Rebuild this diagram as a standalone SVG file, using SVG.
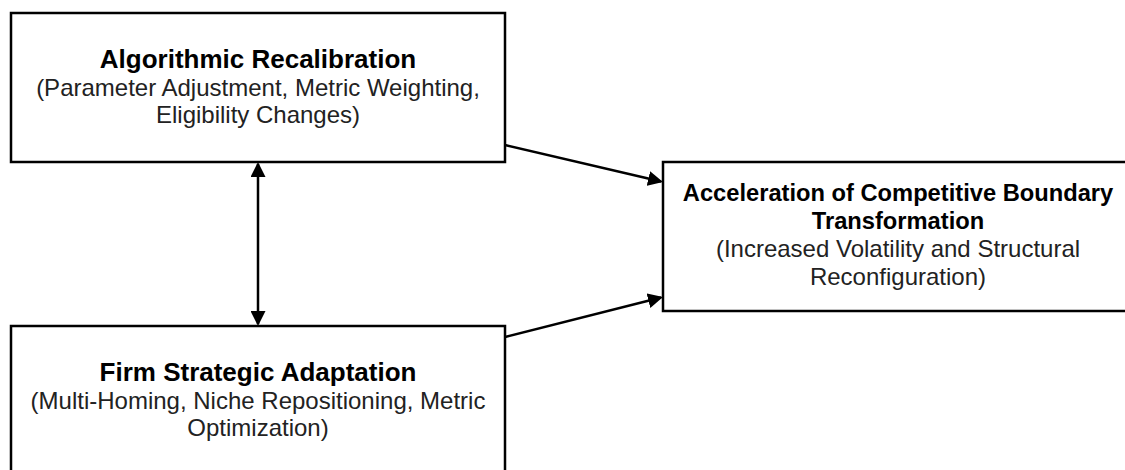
<svg xmlns="http://www.w3.org/2000/svg" width="1125" height="470" viewBox="0 0 1125 470">
  <style>
    .box { fill: #ffffff; stroke: #000000; stroke-width: 2.5; }
    .title { font-family: "Liberation Sans", Arial, Helvetica, sans-serif; font-weight: bold; fill: #000000; text-anchor: middle; }
    .sub { font-family: "Liberation Sans", Arial, Helvetica, sans-serif; font-size: 24px; fill: #222222; text-anchor: middle; }
    .edge { fill: none; stroke: #000000; stroke-width: 2.5; }
  </style>
  <defs>
    <marker id="arrow" markerUnits="userSpaceOnUse" markerWidth="15" markerHeight="15" viewBox="0 0 15 15" refX="13" refY="7.5" orient="auto-start-reverse">
      <path d="M0,0 L15,7.5 L0,15 Z" fill="#000000"/>
    </marker>
  </defs>
  <rect width="1125" height="470" fill="#ffffff"/>

  <g id="node-algorithmic-recalibration">
    <rect class="box" x="11" y="13" width="494" height="149"/>
    <text class="title" x="258" y="68" font-size="26">Algorithmic Recalibration</text>
    <text class="sub" x="258" y="96">(Parameter Adjustment, Metric Weighting,</text>
    <text class="sub" x="258" y="123">Eligibility Changes)</text>
  </g>

  <g id="node-firm-strategic-adaptation">
    <rect class="box" x="11" y="326" width="494" height="149"/>
    <text class="title" x="258" y="381" font-size="26">Firm Strategic Adaptation</text>
    <text class="sub" x="258" y="409">(Multi-Homing, Niche Repositioning, Metric</text>
    <text class="sub" x="258" y="436">Optimization)</text>
  </g>

  <g id="node-acceleration">
    <rect class="box" x="663" y="162" width="471" height="149"/>
    <text class="title" x="898" y="201" font-size="23.7">Acceleration of Competitive Boundary</text>
    <text class="title" x="898" y="229" font-size="23.7">Transformation</text>
    <text class="sub" x="898" y="257">(Increased Volatility and Structural</text>
    <text class="sub" x="898" y="285">Reconfiguration)</text>
  </g>

  <g id="connectors">
    <line class="edge" x1="258" y1="164" x2="258" y2="324" marker-start="url(#arrow)" marker-end="url(#arrow)"/>
    <line class="edge" x1="505" y1="145" x2="661.05" y2="181.54" marker-end="url(#arrow)"/>
    <line class="edge" x1="505" y1="337" x2="661.06" y2="297.49" marker-end="url(#arrow)"/>
  </g>
</svg>
